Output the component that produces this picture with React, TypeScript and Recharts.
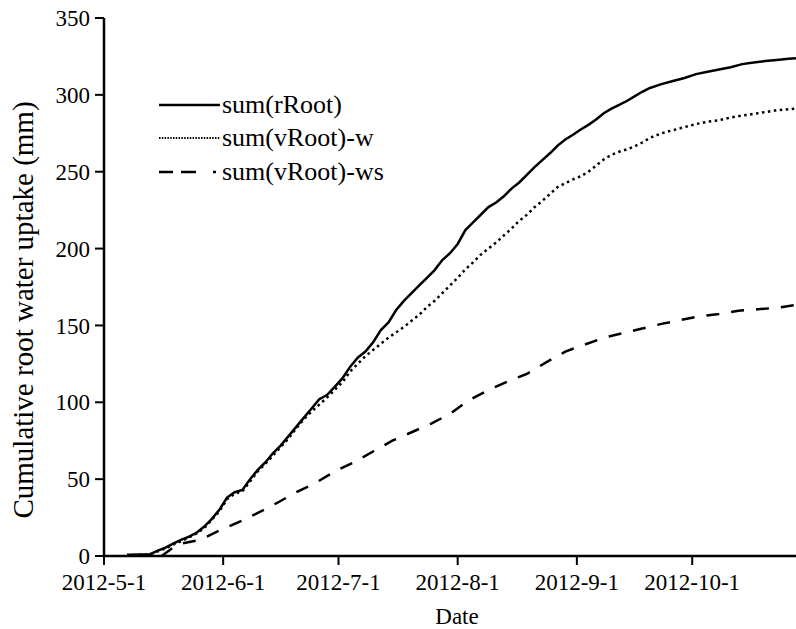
import { LineChart, Line, XAxis, YAxis } from "recharts"

// day 0 = 2012-5-1
const days = [
  6, 10, 12, 14, 16, 18, 20, 22, 24, 26, 28, 30, 32, 34, 36, 38, 40, 42, 44, 46, 48, 50, 52, 54, 56, 58, 60, 62, 64, 66,
  68, 70, 72, 74, 76, 78, 80, 82, 84, 86, 88, 90, 92, 94, 96, 98, 100, 102, 104, 106, 108, 110, 112, 114, 116, 118, 120,
  122, 124, 126, 128, 130, 132, 134, 136, 138, 140, 142, 145, 148, 151, 154, 157, 160, 163, 166, 169, 172, 175, 178, 180,
]

const rRootSum = [
  0.8, 1, 1.2, 3.5, 5.5, 8, 10.5, 12.5, 15, 19, 24, 30, 38, 41.5, 43, 50, 56, 61, 67, 72, 78, 84, 90, 96, 102, 104.7, 110,
  115.5, 123, 129, 133, 139, 147, 152, 160, 166, 171, 176, 181, 186, 192.5, 197, 203, 212, 217, 222, 227, 230, 234, 239,
  243, 248, 253, 257.5, 262, 267, 271, 274, 277.5, 280.5, 284, 288, 291, 293.5, 296, 299, 302, 304.5, 307, 309, 311,
  313.5, 315, 316.5, 318, 320, 321, 322, 322.7, 323.5, 323.8,
]

const vRootWSum = [
  0.5, 0.8, 1, 3, 5, 7.5, 9.5, 12, 14.5, 18, 23.5, 29, 37, 40.5, 42, 48.5, 55, 60, 65.5, 71, 76.5, 83, 89, 94, 98.5, 103,
  108, 113, 120, 125, 130, 134, 138, 142, 145.5, 149, 153, 157, 162, 166, 171, 176, 181, 186.5, 191, 196, 200, 204, 208.5,
  213, 218, 222, 227, 231, 235.5, 240, 242.5, 245, 247, 250, 254, 258, 261, 263, 264.5, 266.5, 269, 272, 275, 277, 279,
  281, 282.5, 283.5, 285.3, 286.5, 287.6, 288.8, 290, 290.6, 291,
]

const wsDays = [15, 18, 20, 25, 30, 35, 40, 45, 50, 55, 60, 65, 70, 75, 80, 85, 90, 95, 100, 105, 110, 115, 120, 125, 130, 135, 140, 145, 150, 155, 160, 165, 170, 175, 180]
const vRootWsSum = [
  0, 5.5, 8, 10.5, 16.5, 22, 28, 34.5, 41.5, 47.5, 55, 61, 68, 75, 80.5, 86, 92.5, 101.5, 108, 113.5, 118.5, 126, 133, 137.5,
  142, 145, 148, 151, 153.5, 156, 157.5, 159.5, 160.5, 161.5, 163.3,
]

const dateTicks = [0, 31, 61, 92, 123, 153]
const dateLabels = ["2012-5-1", "2012-6-1", "2012-7-1", "2012-8-1", "2012-9-1", "2012-10-1"]
const uptakeTicks = [0, 50, 100, 150, 200, 250, 300, 350]

const font = "Liberation Serif, DejaVu Serif, Times New Roman, serif"

const toRows = (xs: number[], ys: number[]) => xs.map((day, i) => ({ day, value: ys[i] }))

const series = [
  { name: "sum(rRoot)", data: toRows(days, rRootSum), dash: undefined, legendDash: undefined, legendWidth: 2.5 },
  { name: "sum(vRoot)-w", data: toRows(days, vRootWSum), dash: "2.5 3.5", legendDash: "1.5 1.3", legendWidth: 2 },
  { name: "sum(vRoot)-ws", data: toRows(wsDays, vRootWsSum), dash: "13 12", legendDash: "14 8 15 17 3 10", legendWidth: 2.5 },
]

const tickStyle = { fill: "#000", fontSize: 23, fontFamily: font }
const axisStroke = { stroke: "#000", strokeWidth: 2.5 }

export default function App() {
  return (
    <div style={{ position: "absolute", left: 0, top: 0, width: 796, height: 629, background: "#fff", fontFamily: font }}>
      <LineChart width={796} height={629} margin={{ top: 18, right: 0, bottom: 0, left: 0 }} style={{ fontFamily: font }}>
        <XAxis
          dataKey="day"
          type="number"
          domain={[0, 180]}
          ticks={dateTicks}
          tickFormatter={(v: number) => dateLabels[dateTicks.indexOf(v)] ?? ""}
          height={73}
          allowDataOverflow
          interval={0}
          tick={tickStyle}
          tickSize={9}
          tickMargin={9}
          axisLine={axisStroke}
          tickLine={{ stroke: "#000", strokeWidth: 2 }}
          label={{ value: "Date", position: "insideBottom", offset: 5, dx: 7, style: { fill: "#000", fontSize: 23, fontFamily: font } }}
        />
        {/* top frame line with its small month ticks */}
        <XAxis
          xAxisId="top"
          orientation="top"
          dataKey="day"
          type="number"
          domain={[0, 180]}
          ticks={dateTicks}
          tickFormatter={() => ""}
          height={0}
          allowDataOverflow
          interval={0}
          tickSize={3}
          axisLine={axisStroke}
          tickLine={{ stroke: "#000", strokeWidth: 1.5 }}
        />
        <YAxis
          type="number"
          domain={[0, 350]}
          ticks={uptakeTicks}
          width={104}
          interval={0}
          tick={tickStyle}
          tickSize={9}
          tickMargin={5}
          axisLine={axisStroke}
          tickLine={{ stroke: "#000", strokeWidth: 2 }}
          label={{
            value: "Cumulative root water uptake (mm)",
            angle: -90,
            position: "insideLeft",
            offset: 23,
            dy: 23,
            textAnchor: "middle",
            style: { fill: "#000", fontSize: 29, fontFamily: font, textAnchor: "middle" },
          }}
        />
        {series.map((s) => (
          <Line
            key={s.name}
            data={s.data}
            dataKey="value"
            name={s.name}
            type="linear"
            stroke="#000"
            strokeWidth={2.5}
            strokeDasharray={s.dash}
            dot={false}
            activeDot={false}
            isAnimationActive={false}
          />
        ))}
      </LineChart>
      <div style={{ position: "absolute", left: 159, top: 88, fontSize: 26, color: "#000" }}>
        {series.map((s) => (
          <div key={s.name} style={{ display: "flex", alignItems: "center", height: 33.5, whiteSpace: "nowrap" }}>
            <svg width={63} height={10}>
              <line x1={0} y1={5} x2={61} y2={5} stroke="#000" strokeWidth={s.legendWidth} strokeDasharray={s.legendDash} />
            </svg>
            <span>{s.name}</span>
          </div>
        ))}
      </div>
    </div>
  )
}
